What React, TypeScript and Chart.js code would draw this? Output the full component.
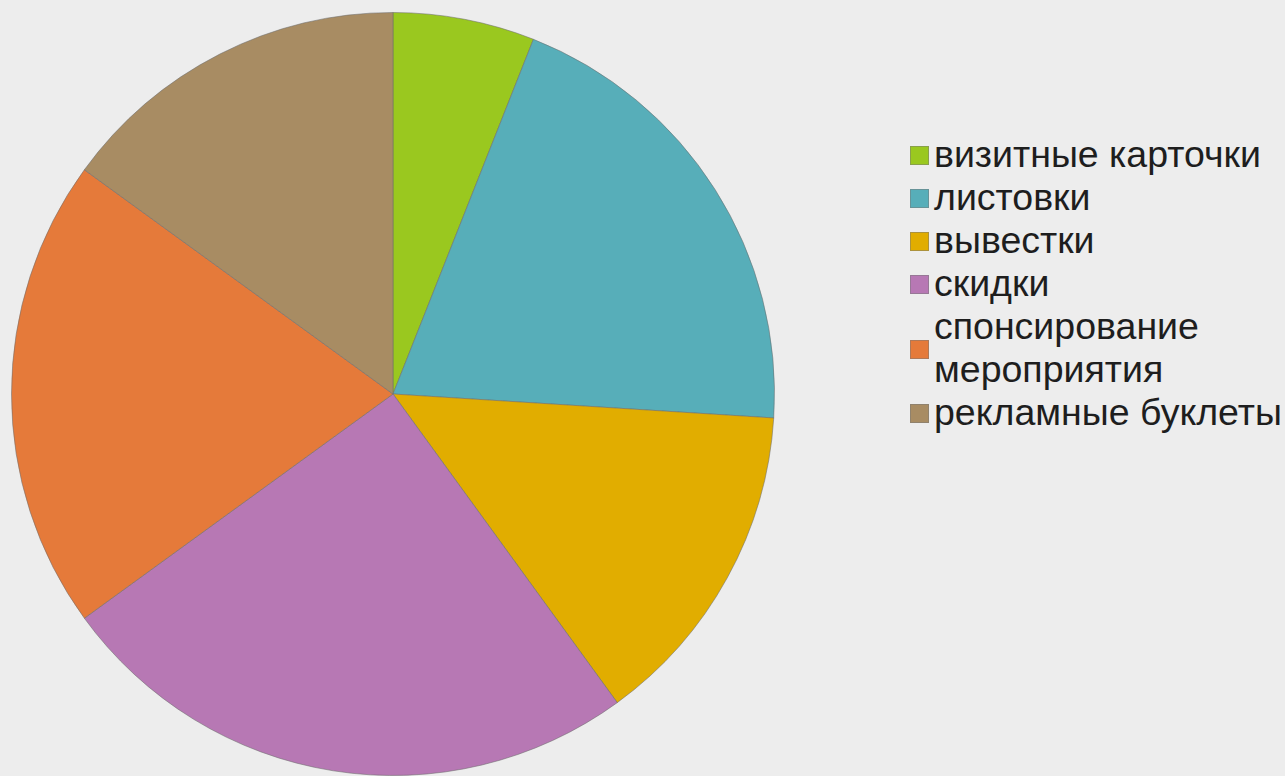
import React, { useEffect, useRef } from "react";
import { Chart, registerables } from "chart.js";

Chart.register(...registerables);

const categories: string[][] = [
  ["визитные карточки"],
  ["листовки"],
  ["вывестки"],
  ["скидки"],
  ["спонсирование", "мероприятия"],
  ["рекламные буклеты"],
];
const values: number[] = [6, 20, 14, 25, 20, 15];
const colors: string[] = ["#9ac81f", "#57aeb9", "#e1ad00", "#b778b4", "#e57a3a", "#a88c63"];

export default function App() {
  const canvasRef = useRef<HTMLCanvasElement | null>(null);

  useEffect(() => {
    const canvas = canvasRef.current;
    if (!canvas) return;
    const chart = new Chart(canvas, {
      type: "pie",
      data: {
        labels: categories.map((c) => c.join(" ")),
        datasets: [
          {
            data: values,
            backgroundColor: colors,
            borderColor: "rgba(110,110,110,0.55)",
            borderWidth: 1,
          },
        ],
      },
      options: {
        animation: false,
        responsive: false,
        maintainAspectRatio: false,
        layout: { padding: { left: 11, right: 11, top: 12, bottom: 0 } },
        plugins: {
          legend: { display: false },
          tooltip: { enabled: false },
          title: { display: false },
        },
      },
    });
    return () => chart.destroy();
  }, []);

  return (
    <div
      style={{
        position: "fixed",
        left: 0,
        top: 0,
        width: 1285,
        height: 776,
        background: "#ededed",
        overflow: "hidden",
      }}
    >
      <canvas
        ref={canvasRef}
        width={786}
        height={776}
        style={{ position: "absolute", left: 0, top: 0, width: 786, height: 776 }}
      />
      <div
        style={{
          position: "absolute",
          left: 910,
          top: 133,
          fontFamily: "'Liberation Sans', Arial, sans-serif",
          fontSize: 37.5,
          lineHeight: "43px",
          color: "#1e1e1e",
        }}
      >
        {categories.map((lines, i) => (
          <div key={i} style={{ display: "flex", alignItems: "center" }}>
            <div
              style={{
                width: 19,
                height: 19,
                background: colors[i],
                border: "1px solid rgba(120,120,120,0.5)",
                boxSizing: "border-box",
                marginRight: 5,
                marginTop: 2,
                flex: "none",
              }}
            />
            <div style={{ whiteSpace: "nowrap" }}>
              {lines.map((l, j) => (
                <div key={j}>{l}</div>
              ))}
            </div>
          </div>
        ))}
      </div>
    </div>
  );
}
